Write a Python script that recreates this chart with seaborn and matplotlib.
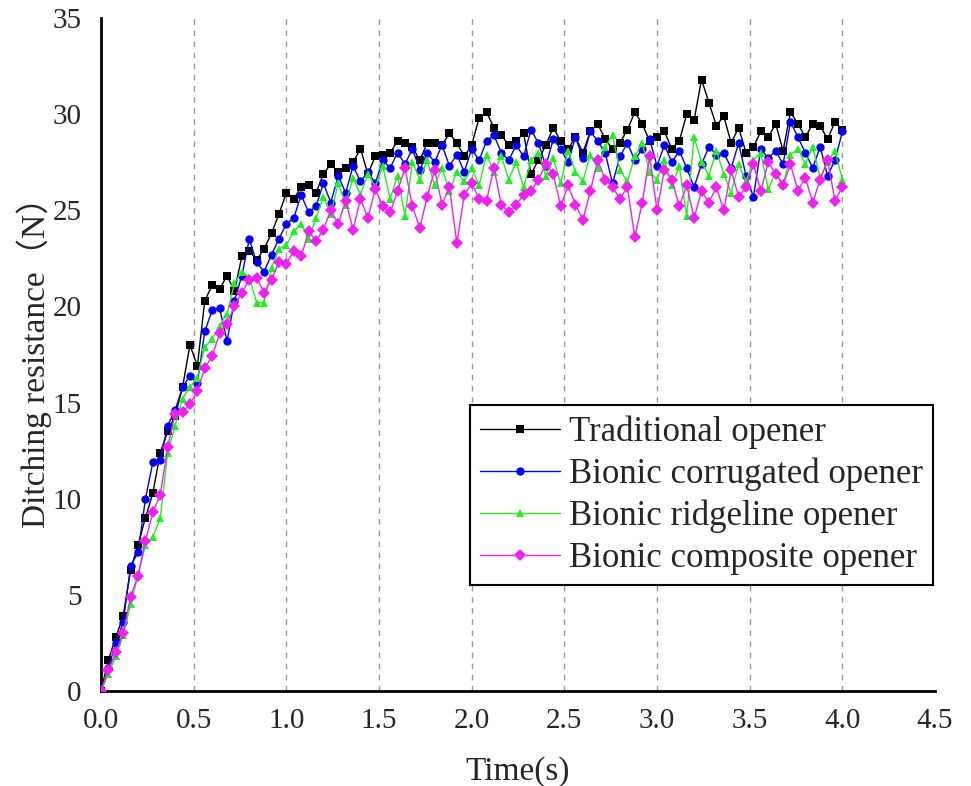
import numpy as np
import pandas as pd
import matplotlib
matplotlib.use("Agg")
import matplotlib.pyplot as plt
import seaborn as sns

time_s = [round(0.04 * i, 2) for i in range(101)]

traditional = [
    0, 1.6, 2.8, 3.9, 6.3, 7.6, 9.0, 10.3, 12.4, 13.5,
    14.3, 15.8, 18.0, 16.9, 20.3, 21.1, 20.9, 21.6, 20.8, 22.6,
    22.9, 22.4, 23.0, 23.8, 24.8, 25.9, 25.6, 26.2, 26.3, 25.9,
    26.9, 27.4, 27.0, 27.2, 27.5, 28.2, 26.9, 27.8, 27.9, 28.0,
    28.6, 28.5, 28.3, 27.6, 28.5, 28.5, 28.4, 29.0, 28.5, 27.8,
    28.4, 29.8, 30.1, 29.3, 28.9, 28.4, 28.6, 29.0, 26.9, 27.6,
    28.4, 29.3, 28.6, 28.2, 28.8, 28.0, 29.1, 29.5, 28.7, 28.2,
    28.5, 29.2, 30.1, 29.5, 28.6, 28.8, 29.1, 28.2, 28.6, 30.0,
    29.7, 31.8, 30.6, 29.4, 29.9, 28.5, 29.3, 28.0, 28.3, 29.1,
    28.8, 29.5, 28.1, 30.1, 29.5, 28.8, 29.5, 29.4, 28.7, 29.6,
    29.2]

corrugated = [
    0, 1.2, 2.5, 3.6, 6.5, 7.2, 10.0, 11.9, 12.0, 13.8,
    14.6, 15.8, 16.4, 16.0, 18.7, 19.8, 19.9, 18.2, 20.3, 21.6,
    23.5, 22.3, 21.8, 22.7, 23.5, 24.3, 24.6, 25.8, 24.9, 25.2,
    26.4, 25.4, 26.8, 25.9, 27.3, 26.5, 27.0, 26.4, 27.6, 27.2,
    28.0, 27.4, 28.2, 27.1, 28.0, 27.5, 28.4, 27.3, 27.9, 27.0,
    28.2, 27.6, 28.6, 28.9, 28.0, 27.6, 28.4, 27.8, 29.2, 28.5,
    27.3, 28.7, 28.2, 27.5, 28.8, 27.7, 29.1, 28.6, 28.0, 26.4,
    27.8, 28.5, 27.6, 28.2, 28.7, 27.3, 28.4, 27.5, 28.1, 27.2,
    26.2, 27.4, 28.3, 27.9, 28.0, 27.2, 28.5, 26.8, 25.7, 28.2,
    27.7, 28.1, 27.4, 29.6, 28.8, 28.0, 27.2, 28.3, 26.8, 27.6,
    29.1]

ridgeline = [
    0, 0.9, 1.8, 2.9, 4.5, 6.0, 7.6, 8.0, 9.0, 12.4,
    13.8, 15.2, 15.8, 16.3, 17.9, 18.3, 19.0, 19.6, 21.2, 21.8,
    21.5, 20.2, 20.2, 22.0, 23.0, 23.2, 23.9, 24.3, 23.5, 24.6,
    25.7, 24.8, 26.4, 25.3, 26.7, 25.8, 26.9, 26.2, 27.3, 25.6,
    26.8, 24.7, 27.5, 26.6, 27.6, 26.3, 27.2, 26.0, 27.0, 26.5,
    27.2, 26.3, 27.9, 27.0, 27.8, 26.6, 27.5, 26.2, 27.6, 28.0,
    26.8, 27.7, 26.4, 28.1, 27.0, 26.5, 27.9, 27.2, 28.3, 28.9,
    27.1, 26.5, 27.8, 28.5, 27.0, 26.6, 27.6, 26.3, 27.3, 24.7,
    28.8, 27.5, 26.8, 28.1, 26.9, 25.9, 27.4, 26.5, 27.6, 28.0,
    26.1, 27.0, 26.3, 27.9, 28.2, 27.4, 28.3, 26.7, 27.5, 28.1,
    26.6]

composite = [
    0, 1.1, 2.0, 3.0, 4.9, 6.0, 7.8, 9.3, 10.2, 12.7,
    14.4, 14.5, 14.9, 15.6, 16.8, 17.4, 18.6, 19.1, 20.0, 20.7,
    21.4, 21.5, 20.7, 21.4, 22.3, 22.2, 22.9, 22.6, 23.9, 23.4,
    24.0, 25.0, 24.3, 25.5, 24.0, 25.6, 24.6, 26.1, 25.2, 24.9,
    26.0, 27.2, 25.2, 24.1, 25.7, 27.1, 25.3, 26.2, 23.3, 25.8,
    26.4, 25.6, 25.5, 27.2, 25.3, 24.9, 25.3, 25.8, 26.0, 26.6,
    27.4, 26.9, 25.2, 26.3, 25.3, 24.5, 26.0, 27.6, 26.6, 26.2,
    25.6, 26.2, 23.6, 25.4, 27.8, 25.0, 27.1, 26.6, 25.2, 26.3,
    24.6, 26.0, 25.4, 26.2, 25.0, 27.1, 25.7, 26.2, 27.4, 26.0,
    27.5, 26.9, 26.3, 27.4, 26.0, 26.7, 25.4, 26.6, 27.6, 25.5,
    26.2]

series_names = ["Traditional opener", "Bionic corrugated opener",
                "Bionic ridgeline opener", "Bionic composite opener"]
x_ticks = [0.0, 0.5, 1.0, 1.5, 2.0, 2.5, 3.0, 3.5, 4.0, 4.5]
y_ticks = [0, 5, 10, 15, 20, 25, 30, 35]

sns.set_style("white")
plt.rcParams['font.family'] = ['Liberation Serif', 'Noto Sans CJK SC', 'DejaVu Sans']

fig = plt.figure(figsize=(9.71, 7.86), dpi=100)
ax = fig.add_axes([0.104, 0.121, 0.859, 0.856])

colors = ["#000000", "#0000ee", "#22ee22", "#ee22ee"]
markers = ["s", "o", "^", "D"]
msizes = [6.5, 7, 7.5, 6.5]
values = [traditional, corrugated, ridgeline, composite]

for xv in x_ticks[1:-1]:
    ax.axvline(xv, color="#999999", linestyle=(0, (4, 4)), linewidth=1.0, zorder=0)

for name, vals, c, m, ms in zip(series_names, values, colors, markers, msizes):
    df = pd.DataFrame({"t": time_s, "v": vals})
    sns.lineplot(data=df, x="t", y="v", ax=ax, color=c, marker=m,
                 markersize=ms, markeredgewidth=0, linewidth=1.0,
                 label=name, zorder=3)

ax.set_xlim(0, 4.5)
ax.set_ylim(0, 35)
ax.set_xticks(x_ticks)
ax.set_xticklabels([f"{v:.1f}" for v in x_ticks])
ax.set_yticks(y_ticks)
ax.set_yticklabels([str(v) for v in y_ticks])
ax.tick_params(axis="both", direction="in", length=9, width=2, labelsize=21,
               color="black")
ax.tick_params(axis="x", pad=12)
ax.tick_params(axis="y", pad=14)
for s in ["top", "right"]:
    ax.spines[s].set_visible(False)
for s in ["left", "bottom"]:
    ax.spines[s].set_color("black")
    ax.spines[s].set_linewidth(2)

ax.set_xlabel("Time(s)", fontsize=24, labelpad=16)
ax.set_ylabel("Ditching resistance（N）", fontsize=24, labelpad=0)

handles, labels = ax.get_legend_handles_labels()
for h in handles:
    h.set_markersize(6)
leg = ax.legend(handles, labels, loc="upper left", bbox_to_anchor=(0.442, 0.425),
                fontsize=25, frameon=True, fancybox=False, framealpha=1,
                edgecolor="black", handlelength=2.3, handletextpad=0.25,
                labelspacing=0.25, borderpad=0.3, borderaxespad=0)
leg.get_frame().set_linewidth(1.5)

fig.savefig("out.png", dpi=100)
